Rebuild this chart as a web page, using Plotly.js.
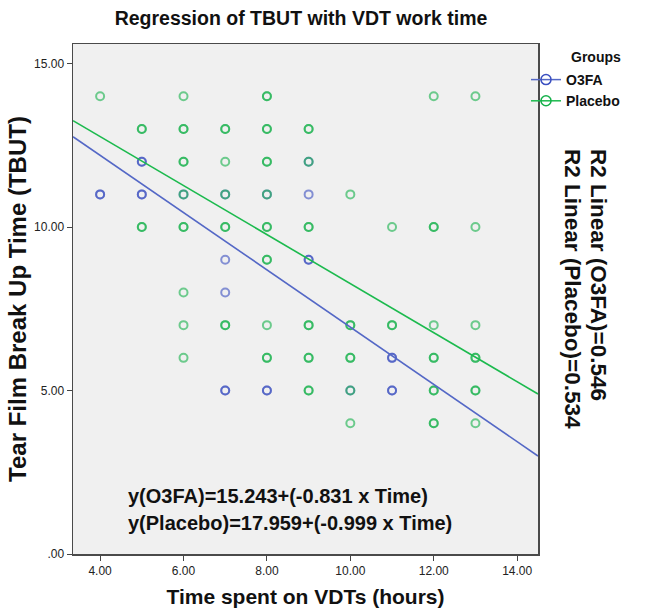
<!DOCTYPE html>
<html>
<head>
<meta charset="utf-8">
<script src="https://cdn.plot.ly/plotly-3.0.1.min.js"></script>
<style>html,body{margin:0;padding:0;background:#fff;}#chart{width:654px;height:613px;}</style>
</head>
<body>
<div id="chart"></div>
<script>
// ---- data ----
const groups = ["O3FA", "Placebo"];
// O3FA observations (hours, TBUT); repeated points = overlapping patients
const o3faX = [4,4,5,5,5,5,6,7,7,7,7,7,8,8,8,9,9,9,9,10,11,11,11,11];
const o3faY = [11,11,12,12,11,11,11,11,9,8,5,5,11,5,5,12,11,9,9,5,6,6,5,5];
// Placebo observations
const placeboX = [4,5,5,5,5,6,6,6,6,6,6,6,6,6,6,6,
  7,7,7,7,7,7,7,7,
  8,8,8,8,8,8,8,8,8,8,8,8,8,8,
  9,9,9,9,9,9,9,9,9,9,9,
  10,10,10,10,10,10,10,
  11,11,11,
  12,12,12,12,12,12,12,12,12,12,
  13,13,13,13,13,13,13,13];
const placeboY = [14,13,13,10,10,14,13,13,12,12,11,10,10,8,7,6,
  13,13,12,11,10,10,7,7,
  14,14,13,13,12,12,11,10,10,9,9,7,6,6,
  13,13,12,10,10,7,7,6,6,5,5,
  11,7,7,6,6,5,4,
  10,7,7,
  14,10,10,7,6,6,5,5,4,4,
  14,10,7,6,6,5,5,4];
// fit lines as drawn in the reference (intercept, slope)
const fitIntercept = [15.7, 15.77];
const fitSlope = [-0.876, -0.75];
// printed statistics
const equations = ["y(O3FA)=15.243+(-0.831 x Time)", "y(Placebo)=17.959+(-0.999 x Time)"];
const r2Labels = ["R2 Linear (O3FA)=0.546", "R2 Linear (Placebo)=0.534"];
// axes
const xTickVals = [4,6,8,10,12,14];
const xTickText = ["4.00","6.00","8.00","10.00","12.00","14.00"];
const yTickVals = [0,5,10,15];
const yTickText = [".00","5.00","10.00","15.00"];

// ---- drawing ----
const FONT = "Arial, 'Liberation Sans', sans-serif";
const markerColors = ["#3a4fc0", "#14b04a"];
const lineColors = ["#5468c6", "#1cba4e"];
const xRange = [3.35, 14.5];

const traces = [];
const xs = [o3faX, placeboX], ys = [o3faY, placeboY];
for (let g = 0; g < 2; g++) {
  traces.push({
    type: "scatter", mode: "markers", x: xs[g], y: ys[g],
    name: groups[g], showlegend: false, hoverinfo: "x+y+name",
    marker: {symbol: "circle-open", size: 8, color: markerColors[g], opacity: 0.6,
             line: {width: 2, color: markerColors[g]}}
  });
}
for (let g = 0; g < 2; g++) {
  traces.push({
    type: "scatter", mode: "lines", x: xRange,
    y: xRange.map(v => fitIntercept[g] + fitSlope[g] * v),
    name: groups[g] + " fit", showlegend: false, hoverinfo: "skip",
    line: {color: lineColors[g], width: 1.6}
  });
}
for (let g = 0; g < 2; g++) {
  traces.push({
    type: "scatter", mode: "lines+markers", x: [null], y: [null],
    name: groups[g], showlegend: true,
    line: {color: lineColors[g], width: 1.5},
    marker: {symbol: "circle-open", size: 10, color: markerColors[g], line: {width: 1.5, color: markerColors[g]}}
  });
}

const L = 73, R = 538, T = 44, B = 554, W = 654, H = 613;
const px = x => (x - L) / (R - L);
const py = y => (B - y) / (B - T);

const annotations = [
  {xref: "paper", yref: "paper", x: px(569), y: py(57), xanchor: "left", yanchor: "middle",
   text: "<b>Groups</b>", showarrow: false, font: {family: FONT, size: 14, color: "#111"}},
  {xref: "paper", yref: "paper", x: px(126), y: py(496), xanchor: "left", yanchor: "middle",
   text: "<b>" + equations[0] + "</b>", showarrow: false, font: {family: FONT, size: 20, color: "#111"}},
  {xref: "paper", yref: "paper", x: px(126), y: py(523), xanchor: "left", yanchor: "middle",
   text: "<b>" + equations[1] + "</b>", showarrow: false, font: {family: FONT, size: 20, color: "#111"}},
  {xref: "paper", yref: "paper", x: px(599), y: py(147), xanchor: "center", yanchor: "top",
   text: "<b>" + r2Labels[0] + "</b>", textangle: 90, showarrow: false, font: {family: FONT, size: 22.5, color: "#111"}},
  {xref: "paper", yref: "paper", x: px(573), y: py(147), xanchor: "center", yanchor: "top",
   text: "<b>" + r2Labels[1] + "</b>", textangle: 90, showarrow: false, font: {family: FONT, size: 22.5, color: "#111"}}
];

const layout = {
  width: W, height: H,
  margin: {l: L, r: W - R, t: T, b: H - B, pad: 0},
  paper_bgcolor: "#ffffff", plot_bgcolor: "#f0f0f0",
  font: {family: FONT, color: "#111"},
  title: {text: "<b>Regression of TBUT with VDT work time</b>", x: 301 / W, xanchor: "center",
          y: 1 - 18 / H, yanchor: "middle", font: {family: FONT, size: 19.5, color: "#111"}},
  xaxis: {range: xRange, tickvals: xTickVals, ticktext: xTickText, ticks: "outside", ticklen: 5,
          tickcolor: "#444", tickfont: {size: 12, color: "#222"}, showgrid: false, zeroline: false,
          showline: true, linecolor: "#4a4a4a", linewidth: 1.5, mirror: true,
          title: {text: "<b>Time spent on VDTs (hours)</b>", standoff: 12, font: {size: 21, color: "#111"}}},
  yaxis: {range: [0, 15.6], tickvals: yTickVals, ticktext: yTickText, ticks: "outside", ticklen: 5,
          tickcolor: "#444", tickfont: {size: 12, color: "#222"}, showgrid: false, zeroline: false,
          showline: true, linecolor: "#4a4a4a", linewidth: 1.5, mirror: true,
          title: {text: "<b>Tear Film Break Up Time (TBUT)</b>", standoff: 0, font: {size: 24, color: "#111"}}},
  legend: {x: px(526), y: py(64), xanchor: "left", yanchor: "top", bgcolor: "rgba(0,0,0,0)",
           font: {family: FONT, size: 14, color: "#111", weight: "bold"}, itemwidth: 30, tracegroupgap: 0},
  annotations: annotations,
  showlegend: true
};

Plotly.newPlot("chart", traces, layout, {displayModeBar: false, staticPlot: true});
</script>
</body>
</html>
